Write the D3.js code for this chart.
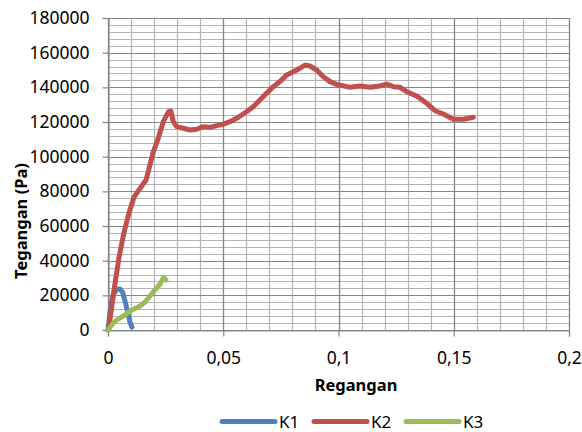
<!DOCTYPE html>
<html>
<head>
<meta charset="utf-8">
<script src="https://cdn.jsdelivr.net/npm/d3@7"></script>
<style>
  html, body { margin: 0; padding: 0; background: #fff; }
  svg { display: block; }
  text { font-family: "Noto Sans", "Open Sans", sans-serif; fill: #000; }
</style>
</head>
<body>
<svg id="chart" width="582" height="432"></svg>
<script>
// ---- data ----
const seriesNames = ["K1", "K2", "K3"];
const seriesColors = ["#4F81BD", "#C0504D", "#9BBB59"];

const k1Strain = [0, 0.0007, 0.0013, 0.0024, 0.0039, 0.0052, 0.0063, 0.0074, 0.0085, 0.0095, 0.0104];
const k1Stress = [0, 8650, 15000, 20800, 23650, 23650, 21900, 16700, 10400, 4600, 1700];

const k2Strain = [0, 0.0004, 0.0026, 0.0048, 0.0069, 0.0091, 0.0113, 0.0134, 0.0165, 0.0197, 0.0218, 0.0240,
  0.0262, 0.0273, 0.0283, 0.0298, 0.0327, 0.0356, 0.0385, 0.0413, 0.0443, 0.0472, 0.0500, 0.0529, 0.0558,
  0.0601, 0.0630, 0.0659, 0.0688, 0.0717, 0.0746, 0.0775, 0.0804, 0.0833, 0.0855, 0.0876, 0.0905, 0.0934,
  0.0963, 0.0992, 0.1036, 0.1050, 0.1093, 0.1137, 0.1180, 0.1209, 0.1238, 0.1267, 0.1296, 0.1339, 0.1383,
  0.1419, 0.1455, 0.1498, 0.1541, 0.1585];
const k2Stress = [0, 1700, 23000, 42100, 56000, 67500, 76700, 80800, 86500, 102900, 110600, 120200,
  125900, 126300, 120200, 117300, 116400, 115400, 115800, 117300, 116900, 117900, 118700, 120200, 122100,
  125900, 128800, 132700, 136600, 140400, 143300, 147100, 149000, 151000, 152900, 152300, 150000, 146100,
  143300, 141700, 140400, 140000, 140800, 140000, 140800, 141900, 140400, 140000, 137500, 135000, 130800,
  126500, 124600, 121600, 121600, 122700];

const k3Strain = [0, 0.0026, 0.0052, 0.0074, 0.0095, 0.0117, 0.0139, 0.0161, 0.0182, 0.0204, 0.0226, 0.0241, 0.0252];
const k3Stress = [0, 4600, 6900, 8650, 11000, 12400, 13850, 16150, 19600, 23100, 26500, 30300, 28850];

const xTicks = [0, 0.05, 0.1, 0.15, 0.2];
const xTickLabels = ["0", "0,05", "0,1", "0,15", "0,2"];
const yTicks = [0, 20000, 40000, 60000, 80000, 100000, 120000, 140000, 160000, 180000];
const xMinor = d3.range(0, 21).map(i => i / 100);
const yMinor = d3.range(0, 46).map(i => i * 4000);

const xTitle = "Regangan";
const yTitle = "Tegangan (Pa)";

// ---- layout ----
const svg = d3.select("#chart");
const L = 108, R = 569, T = 18, B = 330;
const x = d3.scaleLinear().domain([0, 0.2]).range([L, R]);
const y = d3.scaleLinear().domain([0, 180000]).range([B, T]);

// minor grid
svg.append("g").selectAll("line.vmin").data(xMinor).join("line")
  .attr("x1", d => Math.round(x(d)) + 0.5).attr("x2", d => Math.round(x(d)) + 0.5)
  .attr("y1", T).attr("y2", B)
  .attr("stroke", "#b4b4b4").attr("stroke-width", 1.2);
svg.append("g").selectAll("line.hmin").data(yMinor).join("line")
  .attr("y1", d => Math.round(y(d)) + 0.5).attr("y2", d => Math.round(y(d)) + 0.5)
  .attr("x1", L).attr("x2", R)
  .attr("stroke", "#b4b4b4").attr("stroke-width", 1.2);
// major grid
svg.append("g").selectAll("line.vmaj").data(xTicks).join("line")
  .attr("x1", d => Math.round(x(d)) + 0.5).attr("x2", d => Math.round(x(d)) + 0.5)
  .attr("y1", T).attr("y2", B)
  .attr("stroke", "#868686").attr("stroke-width", 1.2);
svg.append("g").selectAll("line.hmaj").data(yTicks).join("line")
  .attr("y1", d => Math.round(y(d)) + 0.5).attr("y2", d => Math.round(y(d)) + 0.5)
  .attr("x1", L).attr("x2", R)
  .attr("stroke", "#868686").attr("stroke-width", 1.2);

// axes
const yAxis = d3.axisLeft(y).tickValues(yTicks).tickFormat(d => String(d)).tickSize(6).tickPadding(13);
const xAxis = d3.axisBottom(x).tickValues(xTicks).tickFormat((d, i) => xTickLabels[i]).tickSize(6).tickPadding(15);

const gy = svg.append("g").attr("transform", `translate(${L + 0.5},0)`).call(yAxis);
const gx = svg.append("g").attr("transform", `translate(0,${B + 0.5})`).call(xAxis);
[gx, gy].forEach(g => {
  g.select(".domain").attr("stroke", "#868686").attr("stroke-width", 1.2);
  g.selectAll(".tick line").attr("stroke", "#868686").attr("stroke-width", 1.2);
  g.selectAll(".tick text").attr("font-family", "Noto Sans").attr("font-size", 17.5).attr("fill", "#000");
});

// series
const series = [
  { name: seriesNames[0], color: seriesColors[0], xs: k1Strain, ys: k1Stress },
  { name: seriesNames[1], color: seriesColors[1], xs: k2Strain, ys: k2Stress },
  { name: seriesNames[2], color: seriesColors[2], xs: k3Strain, ys: k3Stress }
];
const line = d3.line().x(d => x(d[0])).y(d => y(d[1])).curve(d3.curveLinear);
series.forEach(s => {
  svg.append("path")
    .datum(s.xs.map((v, i) => [v, s.ys[i]]))
    .attr("d", line)
    .attr("fill", "none")
    .attr("stroke", s.color)
    .attr("stroke-width", 5)
    .attr("stroke-linejoin", "round")
    .attr("stroke-linecap", "round");
});

// titles
svg.append("text").attr("x", 356).attr("y", 391).attr("text-anchor", "middle")
  .attr("font-size", 16.5).attr("font-weight", "bold").text(xTitle);
svg.append("text").attr("transform", "translate(27,221) rotate(-90)").attr("text-anchor", "middle")
  .attr("font-size", 16.5).attr("font-weight", "bold").text(yTitle);

// legend
const legendX = [222, 314, 406];
const legend = svg.append("g");
series.forEach((s, i) => {
  legend.append("line")
    .attr("x1", legendX[i]).attr("x2", legendX[i] + 53)
    .attr("y1", 421.5).attr("y2", 421.5)
    .attr("stroke", s.color).attr("stroke-width", 5).attr("stroke-linecap", "round");
  legend.append("text").attr("x", legendX[i] + 57).attr("y", 428)
    .attr("font-size", 17).text(s.name);
});
</script>
</body>
</html>
